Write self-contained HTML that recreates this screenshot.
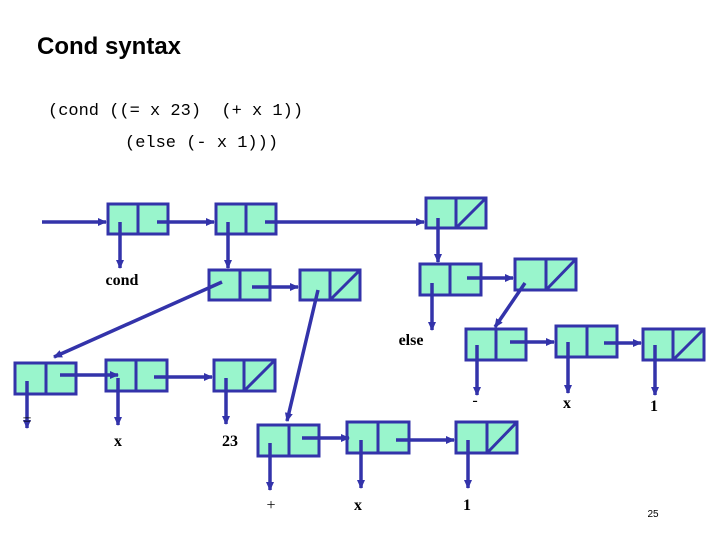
<!DOCTYPE html>
<html><head><meta charset="utf-8"><style>
body{margin:0;background:#fff}
svg{display:block}
</style></head><body>
<svg width="720" height="540" xmlns="http://www.w3.org/2000/svg">
<defs>
<marker id="a" markerWidth="10" markerHeight="10" refX="8" refY="5" orient="auto" markerUnits="userSpaceOnUse">
<path d="M0,1 L9,5 L0,9 Z" fill="#3333aa"/></marker>
</defs>
<text x="37" y="54" font-family="Liberation Sans, sans-serif" font-size="24" font-weight="bold">Cond syntax</text>
<text x="48" y="115" font-family="Liberation Mono, monospace" font-size="17" xml:space="preserve">(cond ((= x 23)  (+ x 1))</text>
<text x="125" y="147" font-family="Liberation Mono, monospace" font-size="17" xml:space="preserve">(else (- x 1)))</text>
<g fill="#99f5cc" stroke="#3333aa" stroke-width="3">
<!-- boxes: x,y -->
<rect x="108" y="204" width="60" height="30"/><line x1="138" y1="204" x2="138" y2="234"/>
<rect x="216" y="204" width="60" height="30"/><line x1="246" y1="204" x2="246" y2="234"/>
<rect x="426" y="198" width="60" height="30"/><line x1="456" y1="198" x2="456" y2="228"/><line x1="456" y1="228" x2="486" y2="198"/>
<rect x="209" y="270" width="61" height="30"/><line x1="240" y1="270" x2="240" y2="300"/>
<rect x="300" y="270" width="60" height="30"/><line x1="330" y1="270" x2="330" y2="300"/><line x1="330" y1="300" x2="360" y2="270"/>
<rect x="420" y="264" width="61" height="31"/><line x1="450" y1="264" x2="450" y2="295"/>
<rect x="515" y="259" width="61" height="31"/><line x1="546" y1="259" x2="546" y2="290"/><line x1="546" y1="290" x2="576" y2="259"/>
<rect x="466" y="329" width="60" height="31"/><line x1="496" y1="329" x2="496" y2="360"/>
<rect x="556" y="326" width="61" height="31"/><line x1="587" y1="326" x2="587" y2="357"/>
<rect x="643" y="329" width="61" height="31"/><line x1="673" y1="329" x2="673" y2="360"/><line x1="673" y1="360" x2="704" y2="329"/>
<rect x="15" y="363" width="61" height="31"/><line x1="46" y1="363" x2="46" y2="394"/>
<rect x="106" y="360" width="61" height="31"/><line x1="136" y1="360" x2="136" y2="391"/>
<rect x="214" y="360" width="61" height="31"/><line x1="244" y1="360" x2="244" y2="391"/><line x1="244" y1="391" x2="275" y2="360"/>
<rect x="258" y="425" width="61" height="31"/><line x1="289" y1="425" x2="289" y2="456"/>
<rect x="347" y="422" width="62" height="31"/><line x1="378" y1="422" x2="378" y2="453"/>
<rect x="456" y="422" width="61" height="31"/><line x1="487" y1="422" x2="487" y2="453"/><line x1="487" y1="453" x2="517" y2="422"/>
</g>
<g stroke="#3333aa" stroke-width="3.5" marker-end="url(#a)" fill="none">
<line x1="42" y1="222" x2="106" y2="222"/>
<line x1="120" y1="222" x2="120" y2="268"/>
<line x1="157" y1="222" x2="214" y2="222"/>
<line x1="228" y1="222" x2="228" y2="268"/>
<line x1="265" y1="222" x2="424" y2="222"/>
<line x1="438" y1="218" x2="438" y2="262"/>
<line x1="432" y1="283" x2="432" y2="330"/>
<line x1="467" y1="278" x2="513" y2="278"/>
<line x1="525" y1="283" x2="495" y2="327"/>
<line x1="477" y1="345" x2="477" y2="395"/>
<line x1="510" y1="342" x2="554" y2="342"/>
<line x1="568" y1="342" x2="568" y2="393"/>
<line x1="604" y1="343" x2="641" y2="343"/>
<line x1="655" y1="345" x2="655" y2="395"/>
<line x1="222" y1="282" x2="54" y2="357"/>
<line x1="252" y1="287" x2="298" y2="287"/>
<line x1="318" y1="290" x2="287" y2="421"/>
<line x1="27" y1="381" x2="27" y2="428"/>
<line x1="60" y1="375" x2="118" y2="375"/>
<line x1="118" y1="378" x2="118" y2="425"/>
<line x1="154" y1="377" x2="212" y2="377"/>
<line x1="226" y1="378" x2="226" y2="424"/>
<line x1="270" y1="443" x2="270" y2="490"/>
<line x1="302" y1="438" x2="349" y2="438"/>
<line x1="361" y1="440" x2="361" y2="488"/>
<line x1="396" y1="440" x2="454" y2="440"/>
<line x1="468" y1="440" x2="468" y2="488"/>
</g>
<g font-family="Liberation Serif, serif" font-size="16" font-weight="bold" text-anchor="middle">
<text x="122" y="285">cond</text>
<text x="411" y="345">else</text>
<text x="27" y="425" font-weight="normal">=</text>
<text x="118" y="446">x</text>
<text x="230" y="446">23</text>
<text x="475" y="405" font-weight="normal">-</text>
<text x="567" y="408">x</text>
<text x="654" y="411">1</text>
<text x="271" y="510" font-weight="normal">+</text>
<text x="358" y="510">x</text>
<text x="467" y="510">1</text>
</g>
<text x="653" y="517" font-family="Liberation Sans, sans-serif" font-size="10" text-anchor="middle">25</text>
</svg>
</body></html>
